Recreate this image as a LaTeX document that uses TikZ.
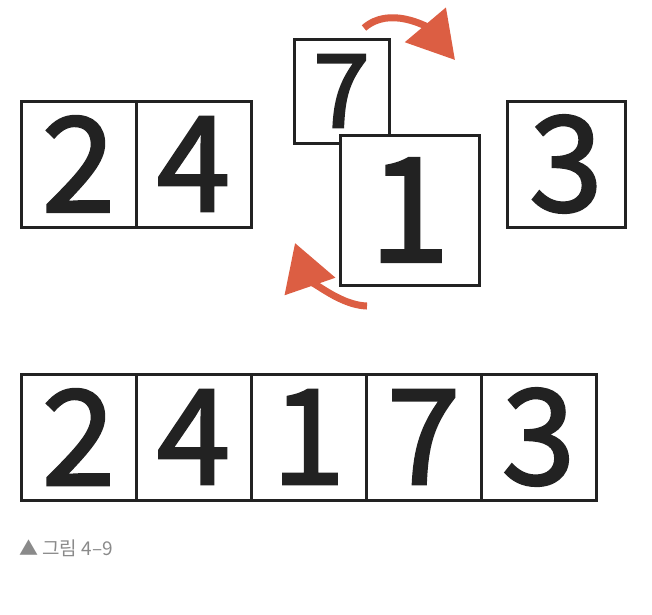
\documentclass[tikz,border=0pt]{standalone}
\usepackage{fontspec}
\usepackage{tikz}
\usetikzlibrary{arrows.meta}
\newfontfamily\numfont[FakeBold=2]{Noto Sans CJK KR}
\newfontfamily\capfont{Noto Sans CJK KR}
\definecolor{swaporange}{HTML}{DC5E43}
\definecolor{boxline}{HTML}{222222}
\definecolor{capgray}{HTML}{8A8A8A}

\begin{document}
\begin{tikzpicture}[x=1pt, y=-1pt,
		cell/.style={draw=boxline, line width=3pt, fill=white, inner sep=0pt, text=boxline},
		swap/.style={draw=swaporange, line width=7pt, -{Triangle[length=46pt, width=52pt]}}]
						\useasboundingbox (0,0) rectangle (652,614);
						% before the swap
						\node[cell, minimum width=115pt, minimum height=126pt, font=\numfont\fontsize{132}{132}\selectfont] (t2) at (78.5,164) {2};
						\node[cell, minimum width=115pt, minimum height=126pt, font=\numfont\fontsize{132}{132}\selectfont] (t4) at (193.5,164) {4};
						\node[cell, minimum width=95pt, minimum height=104pt, font=\numfont\fontsize{102}{102}\selectfont] (t7) at (341.5,91) {7};
						\node[cell, minimum width=139pt, minimum height=150pt, font=\numfont\fontsize{145}{145}\selectfont] (t1) at (409.5,210) {1};
						\node[cell, minimum width=118pt, minimum height=126pt, font=\numfont\fontsize{132}{132}\selectfont] (t3) at (566,164) {3};
						\coordinate (a1) at (364,28);
						\coordinate (a2) at (455,60);
						\coordinate (b1) at (367,306);
						\coordinate (b2) at (295,243);
						\draw[swap] (a1) .. controls (390,5) and (428,28) .. (a2);
						\draw[swap] (b1) .. controls (335,305) and (305,272) .. (b2);
						% after the swap
						\node[cell, minimum width=115pt, minimum height=126pt, font=\numfont\fontsize{132}{132}\selectfont] (s2) at (78.5,437) {2};
						\node[cell, minimum width=115pt, minimum height=126pt, font=\numfont\fontsize{132}{132}\selectfont] (s4) at (193.5,437) {4};
						\node[cell, minimum width=115pt, minimum height=126pt, font=\numfont\fontsize{132}{132}\selectfont] (s1) at (308.5,437) {1};
						\node[cell, minimum width=115pt, minimum height=126pt, font=\numfont\fontsize{132}{132}\selectfont] (s7) at (423.5,437) {7};
						\node[cell, minimum width=115pt, minimum height=126pt, font=\numfont\fontsize{132}{132}\selectfont] (s3) at (538.5,437) {3};
						\node[anchor=west, inner sep=0pt, text=capgray, font=\capfont\fontsize{19}{19}\selectfont] (cap) at (19,548) {▲ 그림 4–9};
					\end{tikzpicture}
\end{document}
